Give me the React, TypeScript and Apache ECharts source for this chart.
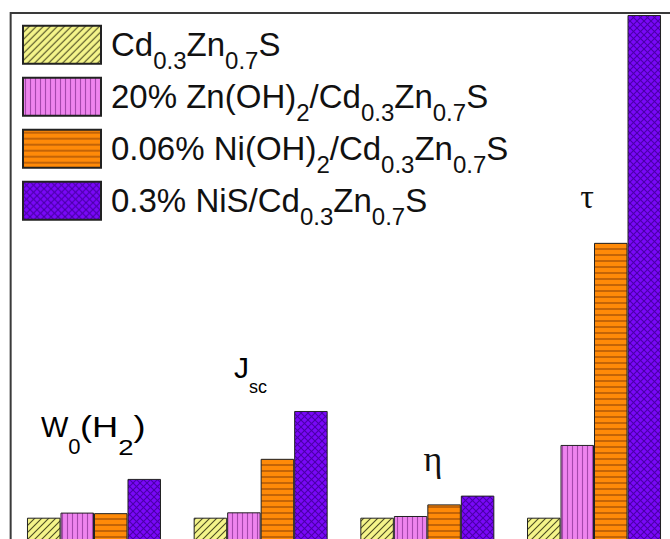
import React, { useEffect, useRef } from "react";
import * as echarts from "echarts";

const categories = ["W0(H2)", "Jsc", "η", "τ"];
const seriesNames = [
  "Cd0.3Zn0.7S",
  "20% Zn(OH)2/Cd0.3Zn0.7S",
  "0.06% Ni(OH)2/Cd0.3Zn0.7S",
  "0.3% NiS/Cd0.3Zn0.7S",
];
const cdznsValues = [1, 1, 1, 1];
const znohValues = [1.18, 1.19, 1.06, 3.57];
const niohValues = [1.16, 3.08, 1.47, 10.71];
const nisValues = [2.37, 4.77, 1.78, 18.76];
const yMax = 18.83;

const legendRich: Record<string, string> = {
  "Cd0.3Zn0.7S": "{f|Cd}{s|0.3}{m|Zn}{s|0.7}{m|S}",
  "20% Zn(OH)2/Cd0.3Zn0.7S": "{f|20% Zn(OH)}{s|2}{m|/Cd}{s|0.3}{m|Zn}{s|0.7}{m|S}",
  "0.06% Ni(OH)2/Cd0.3Zn0.7S": "{f|0.06% Ni(OH)}{s|2}{m|/Cd}{s|0.3}{m|Zn}{s|0.7}{m|S}",
  "0.3% NiS/Cd0.3Zn0.7S": "{f|0.3% NiS/Cd}{s|0.3}{m|Zn}{s|0.7}{m|S}",
};

const SANS = "'Liberation Sans', Arial, sans-serif";
const SERIF = "'Liberation Serif', 'Times New Roman', serif";

function makePattern(kind: string, bg: string, line: string, size: number, lw: number) {
  const c = document.createElement("canvas");
  c.width = size;
  c.height = size;
  const ctx = c.getContext("2d")!;
  ctx.fillStyle = bg;
  ctx.fillRect(0, 0, size, size);
  ctx.strokeStyle = line;
  ctx.lineWidth = lw;
  const s = size;
  const seg = (x1: number, y1: number, x2: number, y2: number) => {
    ctx.beginPath();
    ctx.moveTo(x1, y1);
    ctx.lineTo(x2, y2);
    ctx.stroke();
  };
  if (kind === "diag" || kind === "cross") {
    seg(-1, s + 1, s + 1, -1);
    seg(-1, 1, 1, -1);
    seg(s - 1, s + 1, s + 1, s - 1);
  }
  if (kind === "cross") {
    seg(-1, -1, s + 1, s + 1);
    seg(s - 1, -1, s + 1, 1);
    seg(-1, s - 1, 1, s + 1);
  }
  if (kind === "vert") {
    seg(s / 2, 0, s / 2, s);
  }
  if (kind === "horiz") {
    seg(0, s / 2, s, s / 2);
  }
  return { image: c, repeat: "repeat", imageWidth: size, imageHeight: size } as any;
}

export default function App() {
  const ref = useRef<HTMLDivElement>(null);
  useEffect(() => {
    if (!ref.current) return;
    const chart = echarts.init(ref.current, null, { renderer: "svg" });
    const fills = [
      makePattern("diag", "#f4f48a", "#4a4a20", 7, 1.1),
      makePattern("vert", "#ee84ee", "#a448ac", 5, 1.1),
      makePattern("horiz", "#ff8a08", "#9a4a08", 6, 1.2),
      makePattern("cross", "#7a08f8", "#4a00a8", 7, 1.1),
    ];
    const valueSets = [cdznsValues, znohValues, niohValues, nisValues];
    const ps = 20.6;
    const m = { fontSize: 33, fontFamily: SANS, color: "#111", lineHeight: 33, padding: [0, 0, 0, 0], verticalAlign: "top" };
    const rich = {
      f: { ...m, padding: [0, 0, 0, 5] },
      m,
      s: { fontSize: 24, fontFamily: SANS, color: "#111", lineHeight: 24, padding: [ps, 0, 0, 0], verticalAlign: "top" },
    };
    const annRich = (main: number, sub: number, pSub: number, lhMain: number) => ({
      m: { fontSize: main, fontFamily: SANS, color: "#111", lineHeight: lhMain, verticalAlign: "top" },
      s: { fontSize: sub, fontFamily: SANS, color: "#111", lineHeight: sub, padding: [pSub, 0, 0, 0], verticalAlign: "top" },
    });
    chart.setOption({
      animation: false,
      backgroundColor: "#ffffff",
      grid: {
        show: true,
        left: 10.65,
        top: 13,
        width: 666.7,
        height: 533,
        borderColor: "#3a3a3a",
        borderWidth: 2,
        backgroundColor: "transparent",
        containLabel: false,
      },
      legend: {
        orient: "vertical",
        left: 17,
        top: 19.7,
        itemWidth: 78,
        itemHeight: 38,
        itemGap: 3.9,
        icon: "rect",
        selectedMode: false,
        data: seriesNames,
        formatter: (name: string) => legendRich[name],
        textStyle: { rich },
      },
      xAxis: { type: "category", data: categories, show: false },
      yAxis: { type: "value", min: 0, max: yMax, show: false },
      series: seriesNames.map((name, i) => ({
        name,
        type: "bar",
        data: valueSets[i],
        barGap: "0%",
        barCategoryGap: "19.6%",
        itemStyle: { color: fills[i], borderColor: "#222", borderWidth: 1 },
      })),
      graphic: [
        {
          type: "text",
          x: 41,
          y: 412.8,
          style: { text: "{m|W}{s|0}", rich: annRich(29, 22, 23, 30) },
        },
        {
          type: "text",
          x: 80,
          y: 412.8,
          scaleX: 1.25,
          style: { text: "{m|(H}{s|2}{m|)}", rich: annRich(29, 22, 23, 30) },
        },
        {
          type: "text",
          x: 234,
          y: 352.8,
          style: { text: "{m|J}{s|sc}", rich: annRich(30, 18, 25, 34) },
        },
        {
          type: "text",
          x: 433,
          y: 459,
          style: { text: "η", fontSize: 36, fontFamily: SERIF, fill: "#111", align: "center", verticalAlign: "middle" },
        },
        {
          type: "text",
          x: 587,
          y: 196,
          style: { text: "τ", fontSize: 34, fontFamily: SERIF, fill: "#111", align: "center", verticalAlign: "middle" },
        },
      ],
    });
    return () => chart.dispose();
  }, []);
  return (
    <div style={{ position: "fixed", left: 0, top: 0, width: 670, height: 539, overflow: "hidden", background: "#fff" }}>
      <div ref={ref} style={{ position: "absolute", left: 0, top: 0, width: 720, height: 580 }} />
    </div>
  );
}
